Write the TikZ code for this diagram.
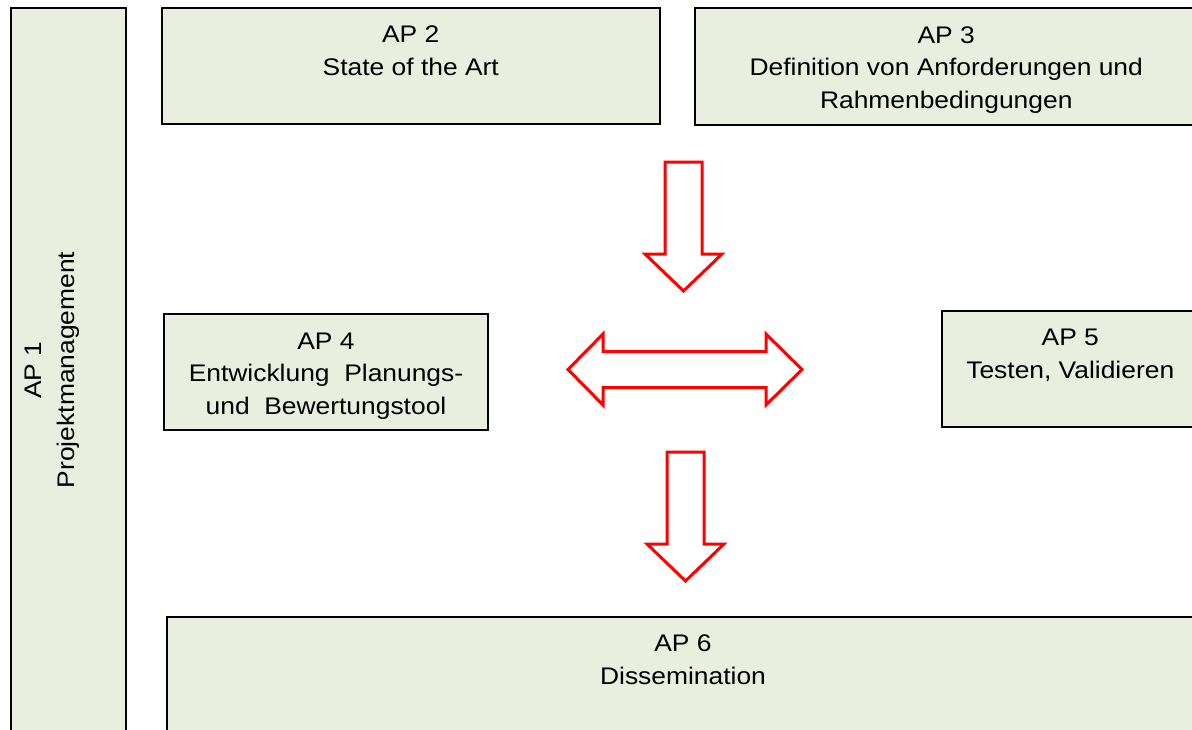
\documentclass[tikz,border=0pt]{standalone}
\usepackage{fontspec}
\setmainfont{Liberation Sans}[FakeStretch=1.1]
\usetikzlibrary{positioning}
\definecolor{apfill}{RGB}{234,238,222}
\definecolor{apred}{RGB}{255,0,0}

\begin{document}
\begin{tikzpicture}[x=1pt, y=-1pt,
    font=\fontsize{24}{32.5}\selectfont,
    apbox/.style={draw=black, line width=2pt, fill=apfill, rectangle, outer sep=0pt, inner sep=0pt, anchor=north west},
    aptext/.style={align=center, inner sep=0pt, outer sep=0pt},
    blockarrow/.style={draw=apred, line width=3pt, line join=miter, fill=white}]
    \useasboundingbox (0, 0) rectangle (1192, 729);
    \clip (0, 0) rectangle (1192, 729);

    % Arbeitspakete
    \node[apbox, minimum width=115pt, minimum height=753pt] (ap1) at (10.5, 7.5) {};
    \node[aptext, rotate=90, anchor=north] (ap1text) at (25, 370) {AP 1\\Projektmanagement};

    \node[apbox, minimum width=498.5pt, minimum height=116pt] (ap2) at (161.5, 7.5) {};
    \node[aptext, below=18.5pt of ap2.north] (ap2text) {AP 2\\State of the Art};

    \node[apbox, minimum width=503.5pt, minimum height=116.5pt] (ap3) at (694.5, 8) {};
    \node[aptext, below=18.5pt of ap3.north] (ap3text) {AP 3\\Definition von Anforderungen und\\Rahmenbedingungen};

    \node[apbox, minimum width=324pt, minimum height=115.5pt] (ap4) at (164, 314) {};
    \node[aptext, below=18.5pt of ap4.north] (ap4text) {AP 4\\Entwicklung~~Planungs-\\und~~Bewertungstool};

    \node[apbox, minimum width=257.5pt, minimum height=116.5pt] (ap5) at (941.5, 310.5) {};
    \node[aptext, below=18.5pt of ap5.north] (ap5text) {AP 5\\Testen, Validieren};

    \node[apbox, minimum width=1032pt, minimum height=143.5pt] (ap6) at (167, 616.5) {};
    \node[aptext, below=18.5pt of ap6.north] (ap6text) {AP 6\\Dissemination};

    % Pfeile
    \draw[blockarrow] (665, 162) -- (702, 162) -- (702, 254) -- (722, 254) -- (683.5, 291)
        -- (645, 254) -- (665, 254) -- cycle;
    \draw[blockarrow] (568, 369.5) -- (603, 334) -- (603, 351.5) -- (766, 351.5) -- (766, 334)
        -- (802, 369.5) -- (766, 405) -- (766, 387.5) -- (603, 387.5) -- (603, 405) -- cycle;
    \draw[blockarrow, shift={(2, 290)}] (665, 162) -- (702, 162) -- (702, 254) -- (722, 254)
        -- (683.5, 291) -- (645, 254) -- (665, 254) -- cycle;
\end{tikzpicture}
\end{document}
